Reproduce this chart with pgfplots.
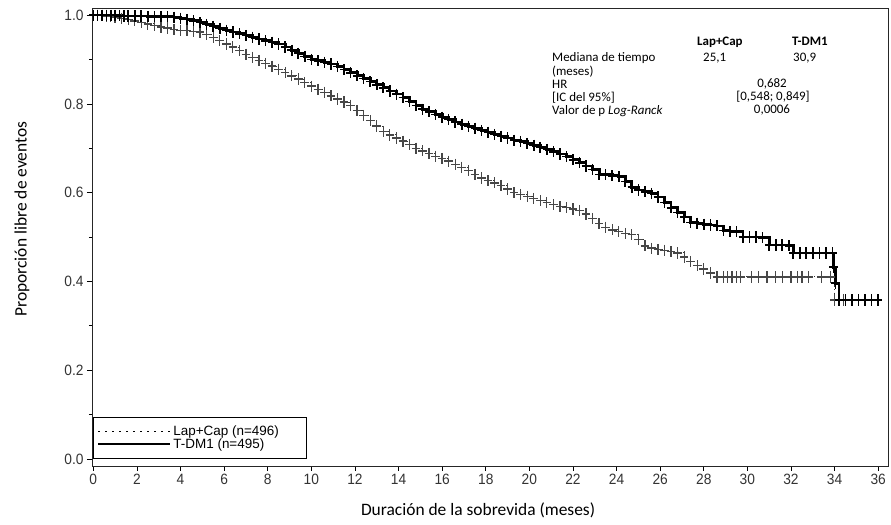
\documentclass[border=0pt]{standalone}
\usepackage{fontspec}
\setmainfont{Carlito}
\newfontfamily\arialfont{Liberation Sans}
\newfontfamily\narrowfont[FakeStretch=0.92]{Liberation Sans}
\usepackage{pgfplots}
\pgfplotsset{compat=1.18}

\pgfplotstableread{
x y
0 1.000
0.2 1.000
0.4 1.000
0.6 1.000
0.8 0.999
1.0 0.999
1.2 0.999
1.4 0.998
1.6 0.998
1.9 0.998
2.2 0.998
2.5 0.997
2.8 0.997
3.1 0.997
3.4 0.996
3.7 0.995
4.0 0.993
4.3 0.990
4.6 0.987
4.9 0.983
5.2 0.979
5.5 0.975
5.8 0.970
6.1 0.966
6.4 0.962
6.7 0.958
7.0 0.954
7.3 0.950
7.6 0.946
7.9 0.942
8.2 0.939
8.5 0.935
8.8 0.928
9.1 0.921
9.4 0.914
9.7 0.907
10.0 0.900
10.3 0.897
10.6 0.894
10.9 0.890
11.2 0.884
11.5 0.877
11.8 0.870
12.1 0.863
12.4 0.857
12.7 0.850
13.0 0.843
13.3 0.836
13.6 0.829
13.9 0.822
14.2 0.814
14.5 0.805
14.8 0.796
15.1 0.788
15.4 0.782
15.7 0.776
16.0 0.770
16.3 0.765
16.6 0.759
16.9 0.754
17.2 0.749
17.5 0.745
17.8 0.740
18.1 0.736
18.4 0.731
18.7 0.727
19.0 0.723
19.3 0.718
19.6 0.715
19.9 0.711
20.2 0.707
20.5 0.702
20.8 0.697
21.1 0.692
21.4 0.687
21.7 0.681
22.0 0.674
22.3 0.667
22.6 0.660
22.9 0.652
23.2 0.641
23.5 0.640
23.8 0.638
24.1 0.636
24.4 0.625
24.7 0.612
25.0 0.606
25.3 0.602
25.6 0.598
25.9 0.590
26.2 0.578
26.5 0.566
26.8 0.555
27.1 0.545
27.4 0.533
27.7 0.531
28.0 0.529
28.3 0.527
28.6 0.525
28.9 0.515
29.2 0.512
29.5 0.512
29.8 0.500
30.1 0.500
30.4 0.500
30.7 0.498
31.0 0.482
31.3 0.482
31.6 0.482
31.9 0.480
32.1 0.464
32.4 0.464
32.7 0.464
33.0 0.464
33.3 0.464
33.6 0.464
33.9 0.464
33.95 0.432
34.05 0.396
34.2 0.358
34.5 0.358
34.8 0.358
35.1 0.358
35.4 0.358
35.7 0.358
36.0 0.358
}\tdmone

\pgfplotstableread{
x y
0 1.000
0.2 1.000
0.4 0.999
0.6 0.998
0.8 0.997
1.0 0.995
1.3 0.993
1.6 0.990
1.9 0.987
2.2 0.984
2.5 0.980
2.8 0.977
3.1 0.973
3.4 0.971
3.7 0.968
4.0 0.966
4.3 0.965
4.6 0.963
4.9 0.962
5.2 0.956
5.5 0.950
5.8 0.943
6.1 0.935
6.4 0.928
6.7 0.920
7.0 0.912
7.3 0.905
7.6 0.898
7.9 0.891
8.2 0.885
8.5 0.878
8.8 0.871
9.1 0.863
9.4 0.856
9.7 0.848
10.0 0.840
10.3 0.833
10.6 0.826
10.9 0.818
11.2 0.811
11.5 0.804
11.8 0.797
12.1 0.785
12.4 0.774
12.7 0.762
13.0 0.750
13.3 0.738
13.6 0.730
13.9 0.723
14.2 0.716
14.5 0.708
14.8 0.700
15.1 0.694
15.4 0.688
15.7 0.682
16.0 0.677
16.3 0.671
16.6 0.664
16.9 0.657
17.2 0.650
17.5 0.641
17.8 0.633
18.1 0.627
18.4 0.622
18.7 0.616
19.0 0.608
19.3 0.600
19.6 0.596
19.9 0.592
20.2 0.587
20.5 0.582
20.8 0.577
21.1 0.573
21.4 0.569
21.7 0.566
22.0 0.563
22.3 0.560
22.6 0.552
22.9 0.542
23.2 0.530
23.5 0.522
23.8 0.516
24.1 0.512
24.4 0.508
24.7 0.505
25.0 0.495
25.3 0.480
25.6 0.475
25.9 0.472
26.2 0.470
26.5 0.467
26.8 0.464
27.1 0.455
27.4 0.445
27.7 0.435
28.0 0.428
28.3 0.419
28.6 0.410
28.9 0.410
29.1 0.410
29.3 0.410
29.5 0.410
29.7 0.410
30.2 0.410
30.5 0.410
30.9 0.410
31.3 0.410
31.6 0.410
32.0 0.410
32.3 0.410
32.5 0.410
32.8 0.410
33.4 0.410
33.8 0.410
34.0 0.358
34.4 0.358
}\lapcap

\begin{document}
\begin{tikzpicture}
\path[use as bounding box] (0bp,0bp) rectangle (891bp,525bp);
\begin{axis}[
  at={(92bp,59bp)}, anchor=south west,
  scale only axis, width=796bp, height=458bp,
  xmin=-0.06, xmax=36.45, ymin=-0.016, ymax=1.016,
  xtick={0,2,...,36},
  ytick={0,0.2,0.4,0.6,0.8,1.0},
  minor ytick={0.1,0.3,0.5,0.7,0.9},
  tick align=outside, tick pos=left,
  major tick length=5bp, minor tick length=3bp,
  tick style={black, line width=0.6bp},
  axis line style={black!85, line width=0.7bp},
  /pgf/number format/assume math mode=true,
  ticklabel style={font=\narrowfont\fontsize{15}{16}\selectfont, text=black!80},
  yticklabel style={/pgf/number format/.cd, fixed, fixed zerofill, precision=1},
  xticklabel style={/pgf/number format/.cd, fixed, precision=0},
  xlabel={Duración de la sobrevida (meses)},
  ylabel={Proporción libre de eventos},
  label style={font=\fontsize{17.5}{18}\selectfont},
  xlabel style={at={(rel axis cs:0.485,0)}, anchor=center, yshift=-44bp},
  ylabel style={at={(rel axis cs:0,0.539)}, anchor=center, yshift=70bp},
  legend image code/.code={\draw[#1] (0bp,0bp) -- (72bp,0bp);},
  legend style={at={(axis cs:0,0)}, anchor=south west, draw=black, line width=0.7bp,
    font=\arialfont\fontsize{13.5}{14}\selectfont, inner xsep=3bp, inner ysep=7bp,
    row sep=-3bp, legend cell align=left,
    /tikz/every odd column/.append style={xshift=3bp}},
  clip=false,
]
\addplot[const plot, black!80, line width=1bp, dash pattern=on 1.2bp off 2.4bp,
  mark=+, mark size=4.3bp, mark options={solid, line width=1.3bp, black!72, yscale=1.3}, forget plot]
  table {\lapcap};
\addplot[const plot, black, line width=2.8bp,
  mark=+, mark size=4.3bp, mark options={solid, line width=1.6bp, black, yscale=1.3}, forget plot]
  table {\tdmone};
\addlegendimage{black, line width=1.2bp, dash pattern=on 2bp off 5bp}
\addlegendentry{\makebox[128bp][l]{Lap+Cap (n=496)}}
\addlegendimage{black, line width=2.8bp}
\addlegendentry{\makebox[128bp][l]{T-DM1 (n=495)}}
\end{axis}
\begin{scope}[every node/.style={font=\fontsize{13}{14}\selectfont, inner sep=0pt}]
\node[anchor=base west] at (697bp,479.8bp) {\textbf{Lap+Cap}};
\node[anchor=base west] at (792bp,479.8bp) {\textbf{T-DM1}};
\node[anchor=base west] at (552bp,463.8bp) {Mediana de tiempo};
\node[anchor=base west] at (703bp,463.8bp) {25,1};
\node[anchor=base west] at (793bp,463.8bp) {30,9};
\node[anchor=base west] at (552bp,449.8bp) {(meses)};
\node[anchor=base west] at (552bp,436.8bp) {HR};
\node[anchor=base] at (772bp,437.8bp) {0,682};
\node[anchor=base west] at (552bp,423.8bp) {[IC del 95\%]};
\node[anchor=base] at (773bp,424.8bp) {[0,548; 0,849]};
\node[anchor=base west] at (552bp,410.8bp) {Valor de p \textit{Log-Ranck}};
\node[anchor=base] at (772bp,411.8bp) {0,0006};
\end{scope}
\end{tikzpicture}
\end{document}
